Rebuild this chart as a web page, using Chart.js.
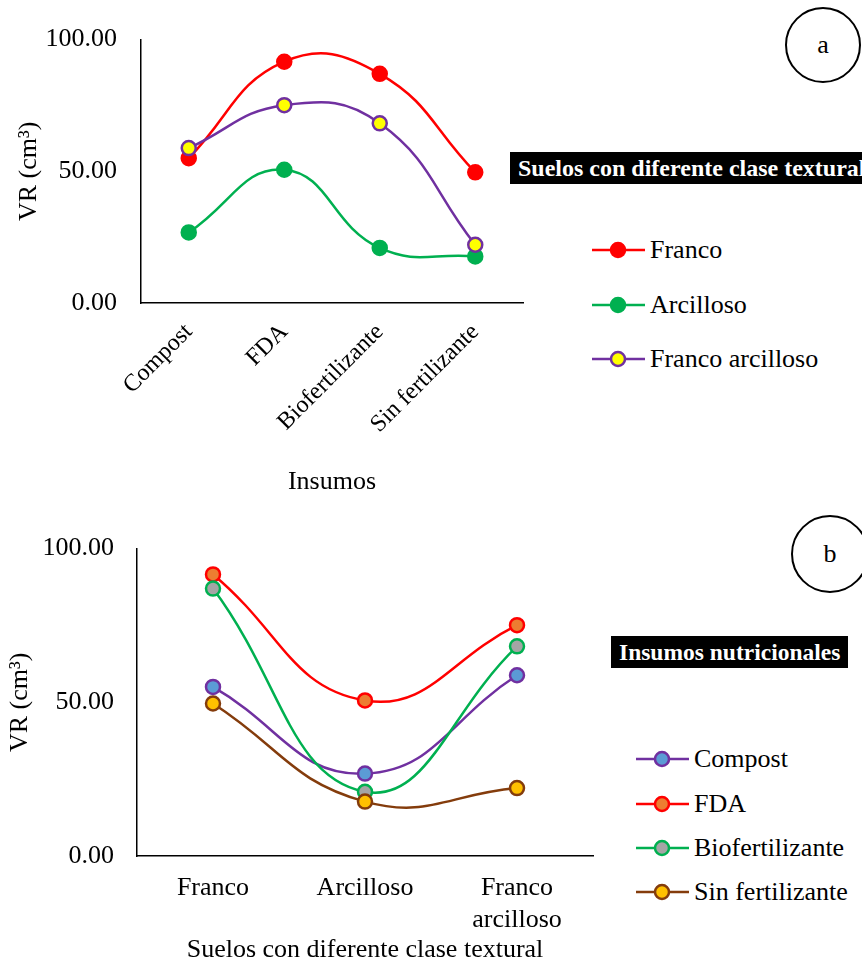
<!DOCTYPE html>
<html>
<head>
<meta charset="utf-8">
<script src="https://cdn.jsdelivr.net/npm/chart.js@4.4.1/dist/chart.umd.min.js"></script>
<style>
  body { margin: 0; background: #fff; }
  #page { position: relative; width: 862px; height: 969px; overflow: hidden; font-family: 'Liberation Serif', 'Times New Roman', serif; }
  canvas { position: absolute; left: 0; }
  .tag { position: absolute; background: #000; color: #fff; font-weight: bold; white-space: nowrap; line-height: 32px; padding: 0 8px; }
  .circ { position: absolute; border: 2px solid #000; border-radius: 50%; text-align: center; font-size: 26px; box-sizing: border-box; }
  .legend { position: absolute; font-size: 26px; }
  .legend div { position: absolute; left: 0; white-space: nowrap; height: 30px; line-height: 30px; }
  .legend svg { position: absolute; left: 0; top: 0; }
  .legend span { position: absolute; top: 0; }
</style>
</head>
<body>
<div id="page">
  <canvas id="chartA" width="540" height="500" style="top:0px"></canvas>
  <canvas id="chartB" width="610" height="459" style="top:510px"></canvas>
  <div class="circ" style="left:785px; top:7px; width:76px; height:76px; line-height:72px;">a</div>
  <div class="circ" style="left:791px; top:515px; width:78px; height:78px; line-height:74px;">b</div>
  <div class="tag" style="left:510px; top:152px; font-size:24px;">Suelos con diferente clase textural</div>
  <div class="tag" style="left:611px; top:636px; font-size:23.5px;">Insumos nutricionales</div>
  <div class="legend" id="legendA" style="left:592px; top:0px;"></div>
  <div class="legend" id="legendB" style="left:636px; top:0px;"></div>
</div>
<script>
// panel a: insumos en el eje x, una serie por suelo
var insumos = ['Compost', 'FDA', 'Biofertilizante', 'Sin fertilizante'];
var franco = [55.0, 91.6, 87.0, 49.6];
var arcilloso = [26.8, 50.6, 20.9, 17.7];
var francoArcilloso = [58.8, 75.1, 68.2, 22.1];

// panel b: suelos en el eje x, una serie por insumo
var suelos = ['Franco', 'Arcilloso', ['Franco', 'arcilloso']];
var compost = [55.0, 26.8, 58.8];
var fda = [91.6, 50.6, 75.1];
var biofertilizante = [87.0, 20.9, 68.2];
var sinFertilizante = [49.6, 17.7, 22.1];

var yTicks = [0, 50, 100];

var FONT = "'Liberation Serif', 'Times New Roman', serif";
Chart.defaults.font.family = FONT;
Chart.defaults.color = '#000';

var serie = function(label, data, line, fill, order) {
    return {
        label: label,
        data: data,
        borderColor: line,
        backgroundColor: fill,
        pointBackgroundColor: fill,
        pointBorderColor: line,
        pointBorderWidth: 2.5,
        pointRadius: 7,
        borderWidth: 2.5,
        tension: 0.45,
        order: order,
        clip: false
    };
};

var makeOptions = function(o) {
    return {
        responsive: false,
        animation: false,
        layout: { padding: { top: o.top, right: 17, bottom: 0, left: 0 } },
        plugins: { legend: { display: false }, tooltip: { enabled: false } },
        scales: {
            x: {
                offset: true,
                grid: { display: false, drawTicks: false },
                border: { color: '#000', width: 1.5 },
                ticks: {
                    font: { size: o.xFont },
                    padding: o.xPad,
                    autoSkip: false,
                    minRotation: o.rot,
                    maxRotation: o.rot
                },
                title: { display: true, text: o.xTitle, font: { size: 26 }, padding: { top: 0, bottom: o.xTitlePad } },
                afterFit: function(s) { s.height = o.xHeight; }
            },
            y: {
                min: 0,
                max: 100,
                afterBuildTicks: function(s) { s.ticks = yTicks.map(function(v) { return { value: v }; }); },
                grid: { display: false, drawTicks: false },
                border: { color: '#000', width: 1.5 },
                ticks: {
                    font: { size: 26 },
                    padding: o.yPad,
                    callback: function(v) { return Number(v).toFixed(2); }
                },
                title: { display: true, text: 'VR (cm³)', font: { size: 26 }, padding: { top: o.yTitlePad, bottom: 0 } },
                afterFit: function(s) { s.width = o.yWidth; }
            }
        }
    };
};

var chartA = new Chart(document.getElementById('chartA'), {
    type: 'line',
    data: {
        labels: insumos,
        datasets: [
            serie('Franco', franco, '#FF0000', '#FF0000', 3),
            serie('Arcilloso', arcilloso, '#00B050', '#00B050', 2),
            serie('Franco arcilloso', francoArcilloso, '#7030A0', '#FFFF00', 1)
        ]
    },
    options: makeOptions({ top: 37, xFont: 24, xPad: 15, rot: 45, xTitle: 'Insumos', xTitlePad: 2,
        xHeight: 197, yPad: 24, yTitlePad: 14, yWidth: 141 })
});

var chartB = new Chart(document.getElementById('chartB'), {
    type: 'line',
    data: {
        labels: suelos,
        datasets: [
            serie('Compost', compost, '#7030A0', '#5B9BD5', 4),
            serie('FDA', fda, '#FF0000', '#ED7D31', 3),
            serie('Biofertilizante', biofertilizante, '#00B050', '#A5A5A5', 2),
            serie('Sin fertilizante', sinFertilizante, '#843C0C', '#FFC000', 1)
        ]
    },
    options: makeOptions({ top: 35, xFont: 26, xPad: 17, rot: 0, xTitle: 'Suelos con diferente clase textural', xTitlePad: 3,
        xHeight: 113, yPad: 23, yTitlePad: 5, yWidth: 137 })
});

// leyenda html a partir de los datasets
var buildLegend = function(chart, el, rows) {
    chart.data.datasets.forEach(function(ds, i) {
        var row = document.createElement('div');
        row.style.top = (rows[i] - 15) + 'px';
        row.innerHTML = '<svg width="54" height="30">' +
            '<line x1="0" y1="15" x2="53" y2="15" stroke="' + ds.borderColor + '" stroke-width="2.5"/>' +
            '<circle cx="26" cy="15" r="' + ds.pointRadius + '" fill="' + ds.pointBackgroundColor +
            '" stroke="' + ds.pointBorderColor + '" stroke-width="' + ds.pointBorderWidth + '"/></svg>' +
            '<span style="left:58px">' + ds.label + '</span>';
        el.appendChild(row);
    });
};
buildLegend(chartA, document.getElementById('legendA'), [250, 305, 359]);
buildLegend(chartB, document.getElementById('legendB'), [759, 804, 848, 892]);
</script>
</body>
</html>
